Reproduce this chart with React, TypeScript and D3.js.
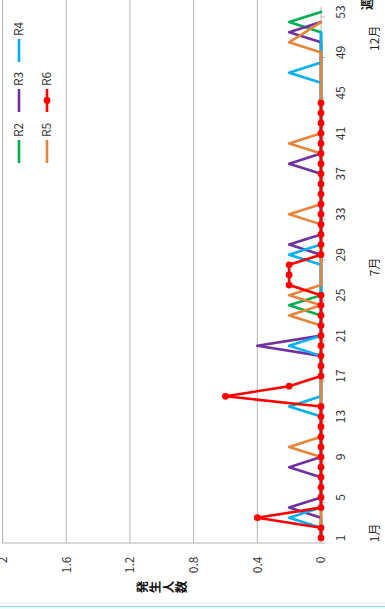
import React from "react";
import * as d3 from "d3";

const weeks: number[] = d3.range(1, 54);
const r2: (number | null)[] = [0,0,0,0,0,0,0,0,0,0,0,0,0,0,0,0,0,0,0,0,0,0,0,0.2,0,0,0,0,0,0,0,0,0,0,0,0,0,0,0,0,0,0,0,0,0,0,0,0,0,0,0,0.2,0];
const r3: (number | null)[] = [0,0,0,0.2,0,0,0,0.2,0,0,0,0,0,0,0,0,0,0,0,0.4,0,0,0,0,0,0,0,0,0,0.2,0,0,0,0,0,0,0,0.2,0,0,0,0,0,0,0,0,0,0,0,0,0.2,0];
const r4: (number | null)[] = [0,0,0.2,0,0,0,0,0,0,0,0,0,0,0.2,0,0,0,0,0,0.2,0,0,0,0,0,0,0,0,0.2,0,0,0,0,0,0,0,0,0,0,0,0,0,0,0,0,0,0.2,0,0,0,0];
const r5: (number | null)[] = [0,0,0,0,0,0,0,0,0,0.2,0,0,0,0,0,0,0,0,0,0,0,0,0.2,0,0.2,0,0,0,0,0,0,0,0.2,0,0,0,0,0,0,0.2,0,0,0,0,0,0,0,0,0,0.2,null,0];
const r6: (number | null)[] = [0,0,0.4,0,0,0,0,0,0,0,0,0,0,0,0.6,0.2,0,0,0,0,0,0,0,0,0,0.2,0.2,0.2,0,0,0,0,0,0,0,0,0,0,0,0,0,0,0,0];

const seriesNames = ["R2", "R3", "R4", "R5", "R6"];
const seriesValues = [r2, r3, r4, r5, r6];
const seriesColors = ["#00B050", "#7030A0", "#00B0F0", "#E8833A", "#FF0000"];
const valueTicks = [0, 0.4, 0.8, 1.2, 1.6, 2];
const weekTickLabels = [1, 5, 9, 13, 17, 21, 25, 29, 33, 37, 41, 45, 49, 53];
const monthLabels = ["1月", "7月", "12月"];
const monthWeeks = [1.5, 27.8, 50.4];
const valueTitle = "発生人数";
const weekTitle = "週";

const W = 609; // original (unrotated) width
const FONT = "'Noto Sans CJK JP', 'Noto Sans', sans-serif";

export default function App() {
  const x = d3.scaleLinear().domain([0.5, 53.5]).range([66, 66 + 53 * 10.115]);
  const y = d3.scaleLinear().domain([0, 2]).range([321, 2.5]);
  const axisY = y(0);

  const lineGen = d3
    .line<{ w: number; v: number }>()
    .x((d) => x(d.w))
    .y((d) => y(d.v));

  const legendPos = [
    { ox: 446, oy: 19 },
    { ox: 497, oy: 19 },
    { ox: 547, oy: 19 },
    { ox: 446, oy: 47 },
    { ox: 497, oy: 47 },
  ];

  return (
    <svg
      width={385}
      height={609}
      style={{ position: "absolute", left: 0, top: 0, background: "#fff" }}
      fontFamily={FONT}
    >
      <rect x={0} y={0} width={385} height={609} fill="#fff" />
      <g transform={`translate(0,${W}) rotate(-90)`}>
        {/* gridlines */}
        {valueTicks.slice(1).map((t) => (
          <line key={t} x1={66} x2={W} y1={y(t)} y2={y(t)} stroke="#B4B4B4" strokeWidth={1} />
        ))}
        {/* value axis line */}
        <line x1={66} x2={66} y1={y(2)} y2={axisY} stroke="#B4B4B4" strokeWidth={1.2} />
        {/* category axis line */}
        <line x1={66} x2={x(53.5)} y1={axisY} y2={axisY} stroke="#B4B4B4" strokeWidth={1} />
        {weekTickLabels.map((w) => (
          <line key={"t" + w} x1={x(w - 0.5)} x2={x(w - 0.5)} y1={axisY} y2={axisY + 4} stroke="#B4B4B4" strokeWidth={1} />
        ))}
        {/* value tick labels */}
        {valueTicks.map((t) => (
          <text key={"v" + t} x={52.5} y={y(t) + 4.3} textAnchor="end" fontSize={12} fill="#333">
            {String(t)}
          </text>
        ))}
        {/* week tick labels */}
        {weekTickLabels.map((w) => (
          <text key={"w" + w} x={x(w)} y={344.5} textAnchor="middle" fontSize={12} fill="#333">
            {w}
          </text>
        ))}
        {/* month labels */}
        {monthLabels.map((m, i) => (
          <text key={m} x={x(monthWeeks[i])} y={378.5} textAnchor="middle" fontSize={12} fill="#222">
            {m}
          </text>
        ))}
        {/* week title */}
        <text x={599} y={371.5} fontSize={12} fontWeight="bold" fill="#111">
          {weekTitle}
        </text>
        {/* value title (stacked vertical) */}
        {valueTitle.split("").map((c, i) => (
          <text
            key={"vt" + i}
            x={22}
            y={(y(2) + axisY) / 2 - 26 + i * 13 + 11}
            textAnchor="middle"
            fontSize={12.5}
            fontWeight="bold"
            fill="#111"
          >
            {c}
          </text>
        ))}
        {/* series */}
        {seriesValues.map((vals, si) => {
          const pts = vals
            .map((v, i) => ({ w: weeks[i], v: v as number }))
            .filter((d) => d.v !== null && d.v !== undefined);
          return (
            <g key={seriesNames[si]}>
              <path
                d={lineGen(pts) || ""}
                fill="none"
                stroke={seriesColors[si]}
                strokeWidth={2.6}
                strokeLinejoin="round"
                strokeLinecap="round"
              />
              {seriesNames[si] === "R6" &&
                pts.map((d) => (
                  <circle key={d.w} cx={x(d.w)} cy={y(d.v)} r={3.4} fill={seriesColors[si]} />
                ))}
            </g>
          );
        })}
        {/* legend */}
        {seriesNames.map((n, i) => {
          const p = legendPos[i];
          return (
            <g key={"lg" + n}>
              <line x1={p.ox} x2={p.ox + 23} y1={p.oy} y2={p.oy} stroke={seriesColors[i]} strokeWidth={2.6} />
              {n === "R6" && <circle cx={p.ox + 11.5} cy={p.oy} r={3.4} fill={seriesColors[i]} />}
              <text x={p.ox + 26} y={p.oy + 4.3} fontSize={12} fill="#333">
                {n}
              </text>
            </g>
          );
        })}
      </g>
      <rect x={-1} y={606.5} width={387} height={4} fill="#F2FDFF" stroke="#8FE0EE" strokeWidth={1} />
    </svg>
  );
}
